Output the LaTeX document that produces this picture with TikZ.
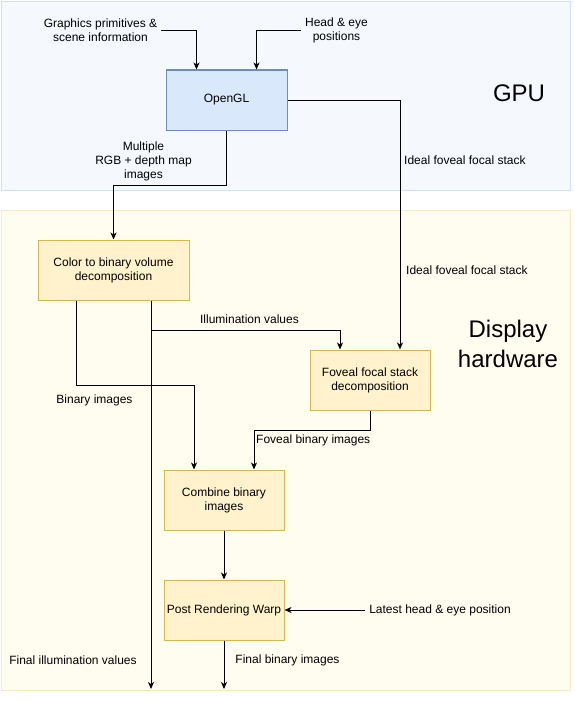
\documentclass[tikz,border=0pt]{standalone}
\usepackage{fontspec}
\setmainfont{Liberation Sans}
\usetikzlibrary{arrows.meta,calc}
\definecolor{gpufill}{HTML}{F5F8FD}
\definecolor{gpuline}{HTML}{D4E1F5}
\definecolor{hwfill}{HTML}{FFFCF0}
\definecolor{hwline}{HTML}{F7EBC4}
\definecolor{bluebox}{HTML}{DAE8FC}
\definecolor{blueline}{HTML}{6C8EBF}
\definecolor{yellowbox}{HTML}{FFF2CC}
\definecolor{yellowline}{HTML}{D6B656}

\begin{document}
\begin{tikzpicture}[x=1pt,y=-1pt,
  font=\fontsize{12}{14}\selectfont,
  block/.style={draw=yellowline,fill=yellowbox,line width=1pt,minimum width=120pt,minimum height=60pt,align=center,inner sep=2pt},
  port/.style={align=center,inner sep=4pt},
  lbl/.style={align=center,inner sep=1pt},
  flow/.style={-{Stealth[length=7pt,width=6pt,inset=2pt]},line width=1pt}]
\useasboundingbox (0,0) rectangle (574,701);
% containers
\draw[gpuline,fill=gpufill] (1,1) rectangle (570,190);
\draw[hwline,fill=hwfill] (1,210) rectangle (570,690);
\node[font=\fontsize{24}{28}\selectfont] (gpu) at (519,93) {GPU};
\node[font=\fontsize{24}{30}\selectfont,align=center] (hw) at (508,344) {Display\\hardware};
% blocks
\node[block,draw=blueline,fill=bluebox,minimum width=121pt] (opengl) at (226.5,100) {OpenGL};
\node[block,minimum width=151pt] (colorbin) at (113.5,270) {Color to binary volume\\decomposition};
\node[block] (foveal) at (370,380) {Foveal focal stack\\decomposition};
\node[block] (combine) at (224,500) {Combine binary\\images};
\node[block] (warp) at (224,610) {Post Rendering Warp};
% inputs and outputs
\node[port] (gfx) at (100.5,30.5) {Graphics primitives \&\\scene information};
\node[port] (head) at (336.5,30.5) {Head \& eye\\positions};
\node[port] (latest) at (440,610) {Latest head \& eye position};
\coordinate (illumout) at (151,689);
\coordinate (binout) at (224,689);
% connectors
\draw[flow] (gfx.east) -| ($(opengl.north)+(-30,0)$);
\draw[flow] (head.west) -| ($(opengl.north)+(30,0)$);
\draw[flow] (opengl.east) -| ($(foveal.north)+(30,0)$);
\draw[flow] (opengl.south) -- ++(0,55) -| (colorbin.north);
\draw[flow] ($(colorbin.south)+(-37.5,0)$) -- ++(0,85) -| ($(combine.north)+(-30,0)$);
\draw[flow] ($(colorbin.south)+(37.5,0)$) -- ++(0,30) -| ($(foveal.north)+(-30,0)$);
\draw[flow] ($(colorbin.south)+(37.5,0)$) -- (illumout);
\draw[flow] (foveal.south) -- ++(0,20) -| ($(combine.north)+(30,0)$);
\draw[flow] (combine.south) -- (warp.north);
\draw[flow] (latest.west) -- (warp.east);
\draw[flow] (warp.south) -- (binout);
% labels
\node[lbl] (rgblbl) at (143.5,161) {Multiple\\RGB + depth map\\images};
\node[lbl,anchor=west] (ideal1) at (403,160) {Ideal foveal focal stack};
\node[lbl,anchor=west] (ideal2) at (405,270) {Ideal foveal focal stack};
\node[lbl] (illumlbl) at (249.5,319.5) {Illumination values};
\node[lbl] (binlbl) at (94.5,400.5) {Binary images};
\node[lbl,anchor=west] (fovlbl) at (255,440) {Foveal binary images};
\node[lbl] (finillum) at (73,660) {Final illumination values};
\node[lbl] (finbin) at (287.5,660) {Final binary images};
\end{tikzpicture}
\end{document}
